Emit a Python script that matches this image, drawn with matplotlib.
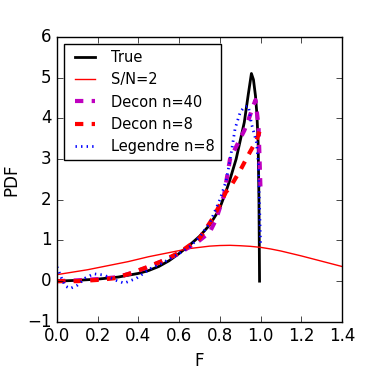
import matplotlib
matplotlib.use("Agg")
import matplotlib.pyplot as plt

plt.style.use("classic")
plt.rcParams["figure.facecolor"] = "white"
plt.rcParams["savefig.facecolor"] = "white"
plt.rcParams["font.family"] = ["DejaVu Sans"]
plt.rcParams["font.size"] = 12

# True PDF
f_true = [0.0, 0.1, 0.2, 0.3, 0.4, 0.45, 0.5, 0.55, 0.6, 0.65, 0.7, 0.75, 0.78,
          0.8, 0.83, 0.85, 0.88, 0.9, 0.92, 0.94, 0.955, 0.965, 0.975, 0.982,
          0.988, 0.992, 0.995]
pdf_true = [0.0, 0.02, 0.05, 0.1, 0.19, 0.26, 0.36, 0.5, 0.68, 0.88, 1.1, 1.38, 1.62,
            1.8, 2.2, 2.5, 3.0, 3.45, 3.9, 4.6, 5.1, 4.95, 4.55, 4.1,
            3.4, 2.0, 0.0]

# S/N=2 observed
f_obs = [0.0, 0.05, 0.1, 0.15, 0.2, 0.25, 0.3, 0.35, 0.4, 0.45, 0.5, 0.55, 0.6,
         0.65, 0.7, 0.75, 0.8, 0.85, 0.9, 0.95, 1.0, 1.05, 1.1, 1.15, 1.2, 1.25,
         1.3, 1.35, 1.4]
pdf_obs = [0.16, 0.2, 0.24, 0.28, 0.33, 0.38, 0.43, 0.48, 0.54, 0.6, 0.65, 0.7, 0.75,
           0.8, 0.83, 0.86, 0.875, 0.88, 0.87, 0.855, 0.83, 0.79, 0.74, 0.68, 0.62,
           0.555, 0.49, 0.425, 0.36]

# Decon n=40
f_d40 = [0.0, 0.1, 0.2, 0.3, 0.36, 0.44, 0.52, 0.6, 0.7, 0.75, 0.78, 0.82, 0.85,
         0.88, 0.9, 0.92, 0.94, 0.96, 0.975, 0.99, 1.0]
pdf_d40 = [0.0, 0.02, 0.05, 0.1, 0.19, 0.33, 0.5, 0.68, 1.0, 1.2, 1.5, 2.1, 3.0,
           3.3, 3.5, 3.7, 3.95, 4.25, 4.45, 3.8, 2.2]

# Decon n=8
f_d8 = [0.0, 0.1, 0.2, 0.28, 0.36, 0.44, 0.52, 0.6, 0.7, 0.77, 0.83, 0.85, 0.9,
        0.94, 0.98, 1.0]
pdf_d8 = [0.0, 0.0, 0.03, 0.07, 0.19, 0.34, 0.5, 0.7, 1.05, 1.58, 2.19, 2.3, 2.72,
          3.1, 3.46, 3.75]

# Legendre n=8
f_leg = [0.0, 0.02, 0.04, 0.065, 0.1, 0.14, 0.18, 0.23, 0.29, 0.33, 0.39, 0.46,
         0.52, 0.6, 0.65, 0.7, 0.75, 0.8, 0.83, 0.85, 0.875, 0.9, 0.92, 0.94,
         0.956, 0.97, 0.98, 0.989, 1.0]
pdf_leg = [0.35, 0.1, -0.12, -0.18, -0.1, 0.08, 0.18, 0.15, 0.02, -0.05, 0.07, 0.31,
           0.45, 0.68, 0.84, 1.08, 1.42, 2.0, 2.45, 2.97, 3.75, 4.15, 4.28, 4.3,
           3.85, 3.6, 3.4, 2.9, 0.9]

fig = plt.figure(figsize=(3.8, 3.8), dpi=100)
ax = fig.add_axes([0.15, 0.153, 0.75, 0.75])

ax.plot(f_true, pdf_true, color="k", lw=2, label="True")
ax.plot(f_obs, pdf_obs, color="r", lw=1, label="S/N=2")
ax.plot(f_d40, pdf_d40, color="m", lw=3, ls="--", label="Decon n=40")
ax.plot(f_d8, pdf_d8, color="r", lw=3, ls="--", label="Decon n=8")
ax.plot(f_leg, pdf_leg, color="b", lw=2, ls=":", label="Legendre n=8")

ax.set_xlim(0, 1.4)
ax.set_ylim(-1, 6)
ax.set_xticks([0.0, 0.2, 0.4, 0.6, 0.8, 1.0, 1.2, 1.4])
ax.set_yticks([-1, 0, 1, 2, 3, 4, 5, 6])
ax.set_xlabel("F")
ax.set_ylabel("PDF")
ax.legend(loc="upper left", fontsize=10.5)

fig.savefig("out.png", dpi=100)
